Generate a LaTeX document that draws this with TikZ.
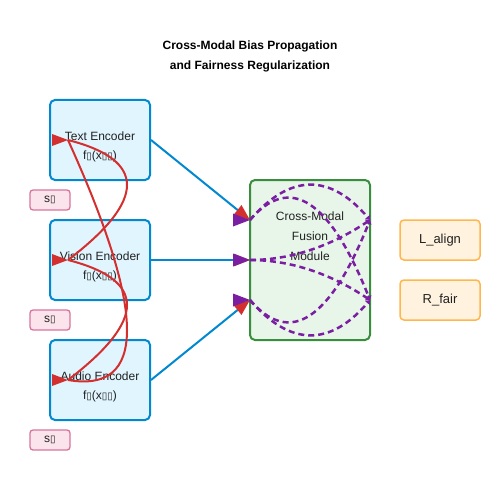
\documentclass[tikz,border=0pt]{standalone}
\usepackage{fontspec}
\setmainfont{Liberation Sans}
\newfontfamily\djv{DejaVu Sans}
\usetikzlibrary{arrows.meta}
\definecolor{encstroke}{HTML}{0288D1}
\definecolor{encfill}{HTML}{E1F5FE}
\definecolor{fusstroke}{HTML}{388E3C}
\definecolor{fusfill}{HTML}{E8F5E9}
\definecolor{sstroke}{HTML}{D9739C}
\definecolor{sfill}{HTML}{FCE4EC}
\definecolor{ostroke}{HTML}{FFB74D}
\definecolor{ofill}{HTML}{FFF3E0}
\definecolor{redc}{HTML}{D32F2F}
\definecolor{purc}{HTML}{7B1FA2}
\definecolor{textc}{HTML}{212121}
\newcommand{\tf}{{\djv\fontsize{10}{11}\selectfont ▯}}
\tikzset{
  enc/.style={draw=encstroke, fill=encfill, line width=2pt, rounded corners=5pt, minimum width=100pt, minimum height=80pt, inner sep=0pt},
  fus/.style={draw=fusstroke, fill=fusfill, line width=2pt, rounded corners=5pt, minimum width=120pt, minimum height=160pt, inner sep=0pt},
  sbox/.style={draw=sstroke, fill=sfill, line width=1.3pt, rounded corners=3pt, minimum width=40pt, minimum height=20pt, inner sep=0pt, text=textc, font=\fontsize{12}{14}\selectfont},
  obox/.style={draw=ostroke, fill=ofill, line width=1.5pt, rounded corners=4pt, minimum width=80pt, minimum height=40pt, inner sep=0pt, text=textc, font=\fontsize{13}{15}\selectfont},
  txt/.style={inner sep=0pt, text=textc, font=\fontsize{12}{14}\selectfont},
  ttl/.style={inner sep=0pt, text=black, font=\bfseries\fontsize{12}{14}\selectfont},
  blue arrow/.style={draw=encstroke, line width=2pt, -{Triangle[length=16pt,width=12pt,color=redc]}},
  redcurve/.style={draw=redc, line width=2pt},
  purcurve/.style={draw=purc, line width=2.5pt, dash pattern=on 6pt off 4pt, -{Triangle[length=4pt,width=6pt,color=purc]}},
}
\begin{document}
\begin{tikzpicture}[x=1pt,y=-1pt]
\useasboundingbox (0,0) rectangle (500,500);
% title
\node[ttl] (t1) at (250,46) {Cross-Modal Bias Propagation};
\node[ttl] (t2) at (250,66) {and Fairness Regularization};
% encoders
\node[enc] (te) at (100,140) {};
\node[enc] (ve) at (100,260) {};
\node[enc] (ae) at (100,380) {};
\node[txt] (tel) at (100,136) {Text Encoder};
\node[txt] (tef) at (100,156) {f\tf(x\tf\tf)};
\node[txt] (vel) at (100,256) {Vision Encoder};
\node[txt] (vef) at (100,276) {f\tf(x\tf\tf)};
\node[txt] (ael) at (100,376) {Audio Encoder};
\node[txt] (aef) at (100,396) {f\tf(x\tf\tf)};
% sensitive attribute boxes
\node[sbox] (s1) at (50,200) {s\tf};
\node[sbox] (s2) at (50,320) {s\tf};
\node[sbox] (s3) at (50,440) {s\tf};
% fusion
\node[fus] (fu) at (310,260) {};
\node[txt] (fu1) at (310,216) {Cross-Modal};
\node[txt] (fu2) at (310,236) {Fusion};
\node[txt] (fu3) at (310,256) {Module};
% losses
\node[obox] (la) at (440,240) {L\_align};
\node[obox] (rf) at (440,300) {R\_fair};
% coordinates
\coordinate (l1) at (250,220);
\coordinate (l2) at (250,260);
\coordinate (l3) at (250,300);
\coordinate (r1) at (370,220);
\coordinate (r2) at (370,300);
\coordinate (tp) at (68,140);
\coordinate (vp) at (68,260);
\coordinate (ap) at (68,380);
% blue arrows
\draw[blue arrow] (te.east) -- (l1);
\draw[blue arrow] (ve.east) -- (l2);
\draw[blue arrow] (ae.east) -- (l3);
% red bias curves
\draw[redcurve] (tp) .. controls (146.67,160) and (146.67,200) .. (vp);
\draw[redcurve] (vp) .. controls (146.67,280) and (146.67,320) .. (ap);
\draw[redcurve] (tp) .. controls (146.67,313.33) and (146.67,393.33) .. (ap);
\foreach \p in {tp,vp,ap}{
  \fill[redc] (\p) -- ++(-16,-6) -- ++(0,12) -- cycle;
}
% purple fusion curves
\draw[purcurve] (l1) .. controls (290,173.33) and (330,173.33) .. (r1);
\draw[purcurve] (l1) .. controls (290,173.33) and (330,200) .. (r2);
\draw[purcurve] (l2) .. controls (290,260) and (330,246.67) .. (r1);
\draw[purcurve] (l2) .. controls (290,260) and (330,273.33) .. (r2);
\draw[purcurve] (l3) .. controls (290,346.67) and (330,320) .. (r1);
\draw[purcurve] (l3) .. controls (290,346.67) and (330,346.67) .. (r2);
\foreach \p in {l1,l2,l3}{
  \fill[purc] (\p) -- ++(-17,-6.5) -- ++(0,13) -- cycle;
}
\end{tikzpicture}
\end{document}
